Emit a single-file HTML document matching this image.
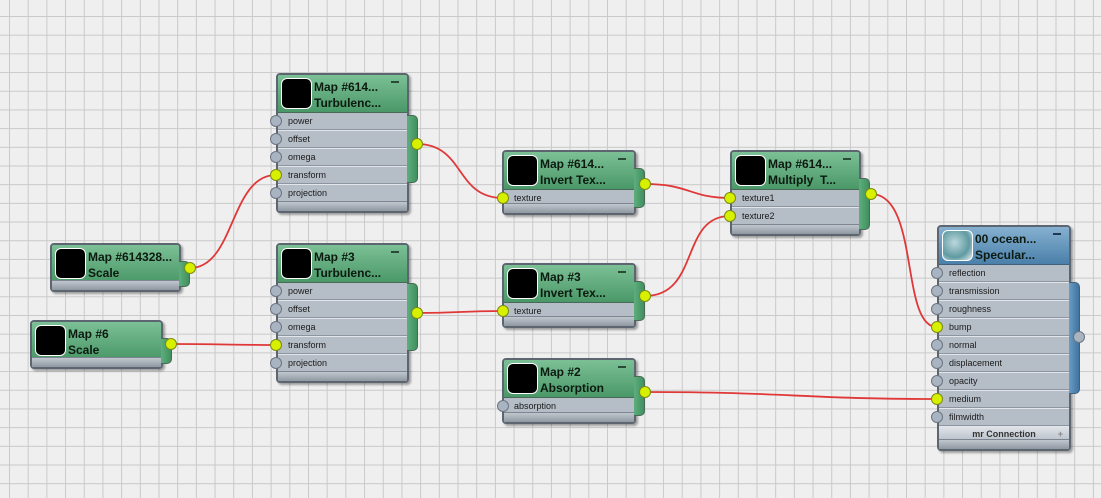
<!DOCTYPE html>
<html><head><meta charset="utf-8"><style>
html,body{margin:0;padding:0}
body{width:1101px;height:498px;overflow:hidden;position:relative;font-family:"Liberation Sans",sans-serif;
background-color:#efefef;
background-image:linear-gradient(to right,#c9c9c9 1px,transparent 1px),linear-gradient(to bottom,#c9c9c9 1px,transparent 1px);
background-size:18.7px 18.7px;background-position:9px 16px;}
.node{position:absolute;border:2px solid #5d6670;border-radius:4px;background:#b5bdc7;box-shadow:2px 2px 2px rgba(0,0,0,.35);box-sizing:border-box;}
.hdr{position:absolute;left:0;right:0;top:0;height:37px;background:linear-gradient(#7cc096,#4a9868);border-bottom:1px solid #4a6a58;border-radius:2px 2px 0 0}
.blue .hdr{background:linear-gradient(#86b0d0,#4a80aa);border-bottom-color:#41607a}
.thumb{position:absolute;left:3px;top:3px;width:29px;height:29px;background:#000;border:1px solid #fff;border-radius:6px}
.ttl{position:absolute;left:36px;top:4px;font-size:12px;font-weight:bold;line-height:16px;color:#0c1a10;white-space:nowrap}
.min{position:absolute;right:8px;top:6px;width:8px;height:2px;background:#2a4a36}
.row{position:absolute;left:0;right:0;height:18px;border-bottom:1px solid #e2e6ea;box-shadow:0 -1px 0 #8d96a0 inset;font-size:9px;line-height:17px;padding-left:10px;color:#1a1a1a;box-sizing:border-box}
.ftr{position:absolute;left:0;right:0;bottom:0;height:9px;background:linear-gradient(#c0c7cf,#8f98a2);border-top:1px solid #7d8690}
.tab{position:absolute;width:10px;background:linear-gradient(to right,#5fae7e,#3f8f5f);border:1px solid #4a6a58;border-left:none;border-radius:0 5px 5px 0}
.blue .tab{background:linear-gradient(to right,#6a9cc4,#3f74a0);border-color:#41607a}
.p{position:absolute;width:12px;height:12px;border-radius:50%;background:#a9b4c2;border:1px solid #6b7480;box-sizing:border-box;z-index:5}
.y{background:#d6f000;border-color:#7a8a10}
svg{position:absolute;left:0;top:0;z-index:1}
.node{z-index:2}
</style></head><body>

<svg width="1101" height="498">
<g fill="none" stroke="#e03838" stroke-width="1.8">
<path d="M190 268 C235 268,230 175,276 175"/>
<path d="M417 144 C465 144,455 198,503 198"/>
<path d="M171 344 C220 344,230 345,276 345"/>
<path d="M417 313 C460 313,460 311,503 311"/>
<path d="M645 184 C690 184,690 198,730 198"/>
<path d="M645 296 C700 296,680 216,730 216"/>
<path d="M871 194 C920 194,900 327,937 327"/>
<path d="M645 392 C790 392,800 399,937 399"/>
</g>
</svg>

<div class="node" style="left:276px;top:73px;width:133px;height:140px">
<div class="tab" style="left:129px;top:40px;height:66px"></div>
<div class="hdr"><div class="thumb"></div><div class="ttl">Map #614...<br>Turbulenc...</div><div class="min"></div></div>
<div class="row" style="top:38px">power</div>
<div class="row" style="top:56px">offset</div>
<div class="row" style="top:74px">omega</div>
<div class="row" style="top:92px">transform</div>
<div class="row" style="top:110px">projection</div>
<div class="ftr"></div>
</div>
<div class="p" style="left:270px;top:115px"></div>
<div class="p" style="left:270px;top:133px"></div>
<div class="p" style="left:270px;top:151px"></div>
<div class="p y" style="left:270px;top:169px"></div>
<div class="p" style="left:270px;top:187px"></div>
<div class="p y" style="left:411px;top:138px"></div>

<div class="node" style="left:276px;top:243px;width:133px;height:140px">
<div class="tab" style="left:129px;top:38px;height:66px"></div>
<div class="hdr"><div class="thumb"></div><div class="ttl">Map #3<br>Turbulenc...</div><div class="min"></div></div>
<div class="row" style="top:38px">power</div>
<div class="row" style="top:56px">offset</div>
<div class="row" style="top:74px">omega</div>
<div class="row" style="top:92px">transform</div>
<div class="row" style="top:110px">projection</div>
<div class="ftr"></div>
</div>
<div class="p" style="left:270px;top:285px"></div>
<div class="p" style="left:270px;top:303px"></div>
<div class="p" style="left:270px;top:321px"></div>
<div class="p y" style="left:270px;top:339px"></div>
<div class="p" style="left:270px;top:357px"></div>
<div class="p y" style="left:411px;top:307px"></div>

<div class="node" style="left:50px;top:243px;width:131px;height:49px">
<div class="tab" style="left:127px;top:16px;height:24px"></div>
<div class="hdr"><div class="thumb"></div><div class="ttl">Map #614328...<br>Scale</div></div>
<div class="ftr"></div>
</div>
<div class="p y" style="left:184px;top:262px"></div>

<div class="node" style="left:30px;top:320px;width:133px;height:49px">
<div class="tab" style="left:129px;top:16px;height:24px"></div>
<div class="hdr"><div class="thumb"></div><div class="ttl">Map #6<br>Scale</div></div>
<div class="ftr"></div>
</div>
<div class="p y" style="left:165px;top:338px"></div>

<div class="node" style="left:502px;top:150px;width:134px;height:65px">
<div class="tab" style="left:130px;top:16px;height:38px"></div>
<div class="hdr"><div class="thumb"></div><div class="ttl">Map #614...<br>Invert Tex...</div><div class="min"></div></div>
<div class="row" style="top:38px">texture</div>
<div class="ftr"></div>
</div>
<div class="p y" style="left:497px;top:192px"></div>
<div class="p y" style="left:639px;top:178px"></div>

<div class="node" style="left:502px;top:263px;width:134px;height:65px">
<div class="tab" style="left:130px;top:16px;height:38px"></div>
<div class="hdr"><div class="thumb"></div><div class="ttl">Map #3<br>Invert Tex...</div><div class="min"></div></div>
<div class="row" style="top:38px">texture</div>
<div class="ftr"></div>
</div>
<div class="p y" style="left:497px;top:305px"></div>
<div class="p y" style="left:639px;top:290px"></div>

<div class="node" style="left:502px;top:358px;width:134px;height:66px">
<div class="tab" style="left:130px;top:16px;height:38px"></div>
<div class="hdr"><div class="thumb"></div><div class="ttl">Map #2<br>Absorption</div><div class="min"></div></div>
<div class="row" style="top:38px">absorption</div>
<div class="ftr"></div>
</div>
<div class="p" style="left:497px;top:400px"></div>
<div class="p y" style="left:639px;top:386px"></div>

<div class="node" style="left:730px;top:150px;width:131px;height:86px">
<div class="tab" style="left:127px;top:26px;height:50px"></div>
<div class="hdr"><div class="thumb"></div><div class="ttl">Map #614...<br>Multiply&nbsp; T...</div><div class="min"></div></div>
<div class="row" style="top:38px">texture1</div>
<div class="row" style="top:56px">texture2</div>
<div class="ftr"></div>
</div>
<div class="p y" style="left:724px;top:192px"></div>
<div class="p y" style="left:724px;top:210px"></div>
<div class="p y" style="left:865px;top:188px"></div>

<div class="node blue" style="left:937px;top:225px;width:134px;height:226px">
<div class="tab" style="left:130px;top:55px;height:110px"></div>
<div class="hdr"><div class="thumb" style="background:radial-gradient(circle at 40% 40%,#bcd8dc,#5f9aa2 60%,#d8e4e6 95%)"></div><div class="ttl">00 ocean...<br>Specular...</div><div class="min" style="background:#203850"></div></div>
<div class="row" style="top:38px">reflection</div>
<div class="row" style="top:56px">transmission</div>
<div class="row" style="top:74px">roughness</div>
<div class="row" style="top:92px">bump</div>
<div class="row" style="top:110px">normal</div>
<div class="row" style="top:128px">displacement</div>
<div class="row" style="top:146px">opacity</div>
<div class="row" style="top:164px">medium</div>
<div class="row" style="top:182px">filmwidth</div>
<div style="position:absolute;left:0;right:0;top:200px;height:14px;background:linear-gradient(#dfe3e8,#b8c0c9);font-size:9px;font-weight:bold;text-align:center;line-height:14px;color:#333">mr Connection<span style="position:absolute;right:6px;color:#888">+</span></div>
<div class="ftr"></div>
</div>
<div class="p" style="left:931px;top:267px"></div>
<div class="p" style="left:931px;top:285px"></div>
<div class="p" style="left:931px;top:303px"></div>
<div class="p y" style="left:931px;top:321px"></div>
<div class="p" style="left:931px;top:339px"></div>
<div class="p" style="left:931px;top:357px"></div>
<div class="p" style="left:931px;top:375px"></div>
<div class="p y" style="left:931px;top:393px"></div>
<div class="p" style="left:931px;top:411px"></div>
<div class="p" style="left:1073px;top:331px"></div>

</body></html>
